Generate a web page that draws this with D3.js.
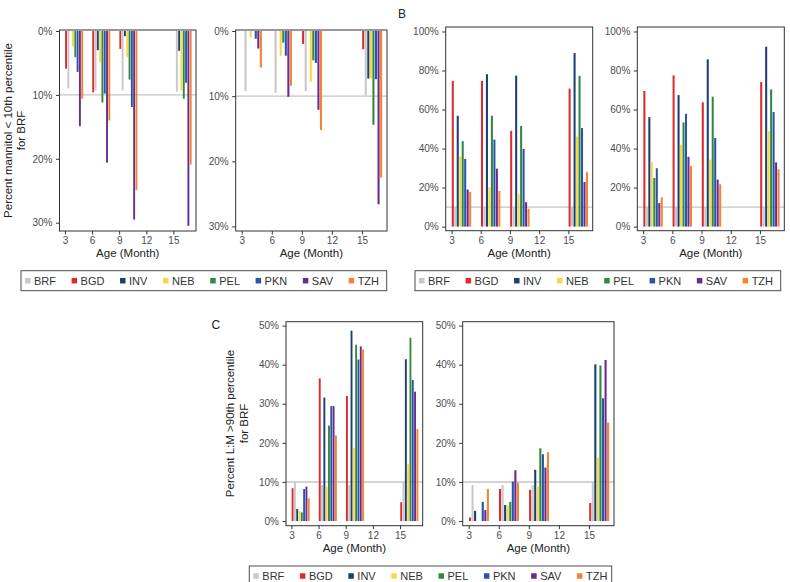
<!DOCTYPE html>
<html><head><meta charset="utf-8">
<script src="https://cdn.jsdelivr.net/npm/d3@7"></script>
<style>
body{margin:0;background:#fff}
svg{display:block}
text{font-family:"Liberation Sans",Arial,Helvetica,sans-serif}
</style>
</head><body>
<svg id="chart" width="790" height="582"></svg>
<script>
// ---------- data ----------
const legendSites = ["BRF","BGD","INV","NEB","PEL","PKN","SAV","TZH"];
const barSites    = ["BGD","BRF","INV","NEB","PEL","PKN","SAV","TZH"];
const ages = [3, 6, 9, 15];
const xTickValues = [3, 6, 9, 12, 15];
const yTicksA = [0, 10, 20, 30];
const yTicksB = [0, 20, 40, 60, 80, 100];
const yTicksC = [0, 10, 20, 30, 40, 50];
const referenceValue = 10;
const siteColors = ["#c8c8c8","#d92b30","#1c3f70","#f8d64e","#2f8a40","#2a53aa","#6b2b8e","#f28433"]; // legend order

// Panel A (left): percent mannitol < 10th percentile
const mannitolLeft = {
  BGD:[5.9, 9.6, 2.8, 0],
  BRF:[9.0, 9.3, 9.3, 9.5],
  INV:[0, 3.0, 0.8, 3.1],
  NEB:[2.4, 4.9, 4.1, 9.3],
  PEL:[4.1, 11.2, 7.6, 10.6],
  PKN:[6.4, 9.8, 11.9, 8.1],
  SAV:[14.9, 20.6, 29.5, 30.5],
  TZH:[10.6, 14.0, 24.9, 20.9]
};
// Panel A (right)
const mannitolRight = {
  BGD:[0, 0, 2.0, 2.8],
  BRF:[9.2, 9.5, 9.2, 9.9],
  INV:[0, 0, 0, 7.3],
  NEB:[1.0, 3.8, 7.8, 7.3],
  PEL:[0, 1.8, 4.5, 14.4],
  PKN:[1.2, 3.8, 4.9, 7.4],
  SAV:[2.7, 10.1, 12.1, 26.6],
  TZH:[5.6, 8.4, 15.2, 22.5]
};
// Panel B (left)
const panelBLeft = {
  BGD:[74.7, 74.7, 49.1, 70.7],
  BRF:[10, 9.5, 9.5, 10],
  INV:[56.8, 78.1, 77.4, 88.9],
  NEB:[35.9, 20.2, 16.6, 46.2],
  PEL:[43.8, 56.8, 51.6, 77.3],
  PKN:[34.7, 44.6, 39.8, 50.5],
  SAV:[19.0, 29.7, 12.5, 22.9],
  TZH:[17.8, 18.3, 9.1, 27.9]
};
// Panel B (right)
const panelBRight = {
  BGD:[69.5, 77.5, 63.7, 74.1],
  BRF:[10, 10, 10, 10],
  INV:[56.1, 67.4, 85.7, 92.2],
  NEB:[33.1, 42.0, 34.3, 48.8],
  PEL:[24.9, 53.4, 66.6, 70.3],
  PKN:[29.9, 57.8, 45.4, 58.7],
  SAV:[12.1, 35.8, 24.1, 32.9],
  TZH:[15.0, 31.1, 21.7, 29.4]
};
// Panel C (left): percent L:M > 90th percentile
const lmLeft = {
  BGD:[8.4, 36.5, 32.0, 4.8],
  BRF:[9.9, 9.2, 9.2, 10.0],
  INV:[3.1, 31.6, 48.7, 41.4],
  NEB:[2.6, 8.8, 18.7, 14.5],
  PEL:[2.2, 24.4, 45.1, 46.9],
  PKN:[8.2, 29.4, 41.3, 36.1],
  SAV:[8.8, 29.4, 44.7, 33.1],
  TZH:[5.8, 21.9, 43.9, 23.5]
};
// Panel C (right)
const lmRight = {
  BGD:[0.9, 8.2, 8.0, 4.6],
  BRF:[9.2, 9.2, 9.2, 10.0],
  INV:[2.6, 4.1, 13.1, 40.1],
  NEB:[0, 3.9, 8.9, 16.2],
  PEL:[0, 4.9, 18.6, 39.8],
  PKN:[4.9, 10.1, 17.1, 31.4],
  SAV:[2.8, 13.0, 13.7, 41.2],
  TZH:[8.2, 9.8, 17.6, 25.2]
};

// ---------- drawing ----------
const svg = d3.select("#chart");
const color = d3.scaleOrdinal().domain(legendSites).range(siteColors);
const xDomain = [2.4, 17.5];
const AXIS = "#333333", TXT = "#4d4d4d";

function drawPanel(cfg){
  const g = svg.append("g");
  const x = d3.scaleLinear().domain(xDomain).range([cfg.x0, cfg.x1]);
  const y = d3.scaleLinear().domain(cfg.yDomain)
     .range(cfg.reversed ? [cfg.y0, cfg.y1] : [cfg.y1, cfg.y0]);

  // reference line
  g.append("line")
    .attr("x1", cfg.x0).attr("x2", cfg.x1)
    .attr("y1", y(referenceValue)).attr("y2", y(referenceValue))
    .attr("stroke", "#c4c4c4").attr("stroke-width", 1.4);

  // bars
  const rows = [];
  ages.forEach((age, ai) => barSites.forEach(s => rows.push({age, site:s, v:cfg.data[s][ai]})));
  rows.forEach(r => {
    const band = d3.scaleBand().domain(barSites)
      .range([x(r.age), x(r.age + 2.04)]).paddingInner(0.18).paddingOuter(0.09);
    r.bx = band(r.site); r.bw = band.bandwidth();
  });
  g.selectAll("rect.bar").data(rows.filter(r => r.v > 0)).join("rect")
    .attr("class","bar")
    .attr("x", d => d.bx).attr("width", d => d.bw)
    .attr("y", d => Math.min(y(0), y(d.v)))
    .attr("height", d => Math.abs(y(d.v) - y(0)))
    .attr("fill", d => color(d.site));

  // frame
  g.append("rect").attr("x", cfg.x0).attr("y", cfg.y0)
    .attr("width", cfg.x1 - cfg.x0).attr("height", cfg.y1 - cfg.y0)
    .attr("fill","none").attr("stroke", AXIS).attr("stroke-width", 1);

  // axes
  const ya = g.append("g").attr("transform", `translate(${cfg.x0},0)`)
    .call(d3.axisLeft(y).tickValues(cfg.ticks).tickFormat(d => d + "%").tickSize(3.5).tickPadding(3.5));
  const xa = g.append("g").attr("transform", `translate(0,${cfg.y1})`)
    .call(d3.axisBottom(x).tickValues(xTickValues).tickSize(3.5).tickPadding(2.8));
  [ya, xa].forEach(a => {
    a.select(".domain").remove();
    a.selectAll("line").attr("stroke", AXIS);
    a.selectAll("text").attr("fill", TXT).style("font-size","10px")
      .style("font-family",'"Liberation Sans",Arial,sans-serif');
  });

  g.append("text").attr("x", (cfg.x0 + cfg.x1)/2).attr("y", cfg.y1 + 26)
    .attr("text-anchor","middle").attr("fill","#222").style("font-size","11.5px")
    .text("Age (Month)");
}

function yTitle(lines, cy, baselines){
  lines.forEach((t, i) => {
    svg.append("text")
      .attr("transform", `translate(${baselines[i]},${cy}) rotate(-90)`)
      .attr("text-anchor","middle").attr("fill","#222").style("font-size","11.5px")
      .text(t);
  });
}

function legend(x0, y0, w, h){
  const g = svg.append("g");
  g.append("rect").attr("x", x0).attr("y", y0).attr("width", w).attr("height", h)
    .attr("fill","#fff").attr("stroke","#4d4d4d").attr("stroke-width",1);
  let cursor = x0 + 4;
  const key = 5.5, gap = 3.5, spacing = 15.6;
  legendSites.forEach(s => {
    g.append("rect").attr("x", cursor).attr("y", y0 + h/2 - key/2)
      .attr("width", key).attr("height", key).attr("fill", color(s));
    const t = g.append("text").attr("x", cursor + key + gap).attr("y", y0 + h/2 + 3.9)
      .attr("fill","#333").style("font-size","11px").text(s);
    cursor += key + gap + t.node().getComputedTextLength() + spacing;
  });
}

// Panel A
drawPanel({x0:59.5, x1:196, y0:30, y1:231, yDomain:[-0.16, 31.3], reversed:true, ticks:yTicksA, data:mannitolLeft});
drawPanel({x0:235.7, x1:387, y0:30, y1:231, yDomain:[-0.15, 30.7], reversed:true, ticks:yTicksA, data:mannitolRight});
yTitle(["Percent mannitol < 10th percentile", "for BRF"], 130.5, [11.5, 25]);
legend(21, 270.7, 365.7, 20);

// Panel B
drawPanel({x0:445.7, x1:592.7, y0:27, y1:230.7, yDomain:[-2.1, 102.3], reversed:false, ticks:yTicksB, data:panelBLeft});
drawPanel({x0:637.3, x1:784.3, y0:27, y1:230.7, yDomain:[-2.1, 102.3], reversed:false, ticks:yTicksB, data:panelBRight});
svg.append("text").attr("x", 398).attr("y", 17.5).attr("fill","#222").style("font-size","12px").text("B");
legend(415, 270.7, 365.7, 20);

// Panel C
drawPanel({x0:286, x1:422.7, y0:321.7, y1:525.7, yDomain:[-1.2, 51.0], reversed:false, ticks:yTicksC, data:lmLeft});
drawPanel({x0:462.7, x1:614, y0:321.7, y1:525.7, yDomain:[-1.2, 51.0], reversed:false, ticks:yTicksC, data:lmRight});
yTitle(["Percent L:M >90th percentile", "for BRF"], 423.5, [234, 248]);
svg.append("text").attr("x", 211.5).attr("y", 328.5).attr("fill","#222").style("font-size","12px").text("C");
legend(249.3, 566, 362.4, 20);
</script>
</body></html>
